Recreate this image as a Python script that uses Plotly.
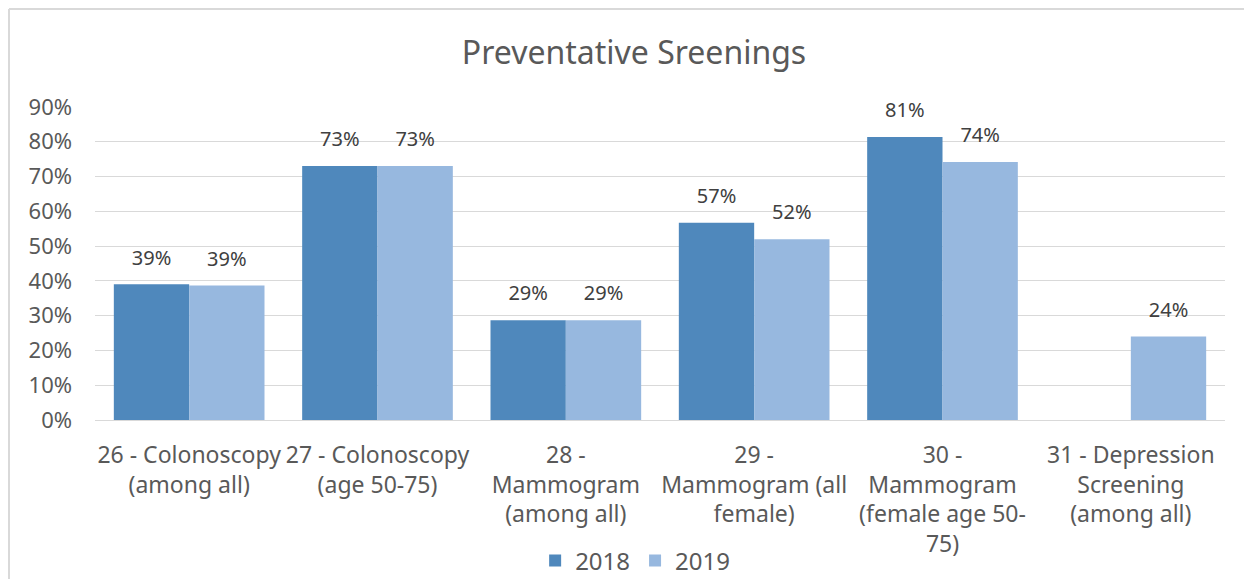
import plotly.graph_objs as go

# ----- data -----
categories = [
    "26 - Colonoscopy<br>(among all)",
    "27 - Colonoscopy<br>(age 50-75)",
    "28 -<br>Mammogram<br>(among all)",
    "29 -<br>Mammogram (all<br>female)",
    "30 -<br>Mammogram<br>(female age 50-<br>75)",
    "31 - Depression<br>Screening<br>(among all)",
]
values_2018 = [0.39, 0.73, 0.287, 0.567, 0.814, None]
values_2019 = [0.387, 0.73, 0.287, 0.52, 0.742, 0.24]
y_ticks = [0, 0.1, 0.2, 0.3, 0.4, 0.5, 0.6, 0.7, 0.8, 0.9]

FONT = "Noto Sans, Open Sans, sans-serif"
TEXT = "#595959"
COLORS = {"2018": "#4F88BC", "2019": "#97B8DF"}

fig = go.Figure()

# bars
for name, vals in (("2018", values_2018), ("2019", values_2019)):
    fig.add_trace(
        go.Bar(
            x=categories,
            y=vals,
            name=name,
            offsetgroup=name,
            marker=dict(color=COLORS[name], line=dict(width=0)),
        )
    )

# data labels, offset like the bars (invisible markers push the text up)
for name, vals in (("2018", values_2018), ("2019", values_2019)):
    fig.add_trace(
        go.Scatter(
            x=categories,
            y=vals,
            offsetgroup=name,
            mode="markers+text",
            marker=dict(size=22, color="rgba(0,0,0,0)"),
            text=[f"{v:.0%}" if v is not None else "" for v in vals],
            textposition="top center",
            textfont=dict(size=20, color="#404040", family=FONT),
            showlegend=False,
            hoverinfo="skip",
            cliponaxis=False,
        )
    )

fig.update_layout(
    width=1252,
    height=579,
    barmode="group",
    bargap=0.2,
    bargroupgap=0,
    scattermode="group",
    scattergap=0.2,
    plot_bgcolor="white",
    paper_bgcolor="white",
    font=dict(family=FONT, color=TEXT, size=22),
    title=dict(
        text="Preventative Sreenings",
        x=0.5,
        xanchor="center",
        y=0.922,
        yanchor="middle",
        font=dict(size=32, color=TEXT, family=FONT),
    ),
    margin=dict(l=87, r=35, t=99, b=167, autoexpand=False),
    legend=dict(
        orientation="h",
        x=0.478,
        xanchor="center",
        y=-0.45,
        yanchor="middle",
        font=dict(size=24, color=TEXT),
        traceorder="normal",
    ),
)

fig.update_yaxes(
    range=[0, 0.9],
    tickvals=y_ticks,
    tickformat=".0%",
    showgrid=True,
    gridcolor="#D9D9D9",
    gridwidth=1,
    zeroline=False,
    showline=False,
    ticks="",
    ticklabelstandoff=22,
    automargin=False,
    tickfont=dict(size=22, color=TEXT),
)
fig.update_xaxes(
    showline=True,
    linecolor="#D9D9D9",
    linewidth=1,
    ticks="",
    tickangle=0,
    ticklabelstandoff=14,
    automargin=False,
    tickfont=dict(size=23, color=TEXT),
)

# chart border (top and left edges visible)
fig.add_shape(type="line", xref="paper", yref="paper",
              x0=-0.0761, x1=1.1, y0=1.3131, y1=1.3131,
              line=dict(color="#D9D9D9", width=2))
fig.add_shape(type="line", xref="paper", yref="paper",
              x0=-0.0761, x1=-0.0761, y0=-0.6, y1=1.3131,
              line=dict(color="#D9D9D9", width=2))

fig.write_html("out.html")
